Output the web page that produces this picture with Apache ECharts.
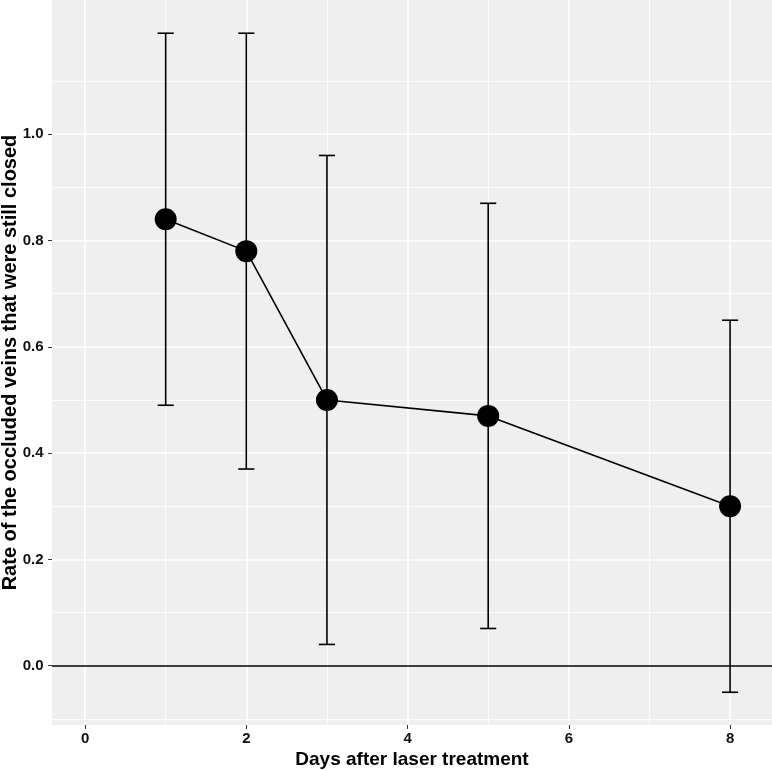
<!DOCTYPE html>
<html>
<head>
<meta charset="utf-8">
<script src="https://cdn.jsdelivr.net/npm/echarts@6/dist/echarts.min.js"></script>
<style>html,body{margin:0;padding:0;background:#fff;}#c{width:772px;height:771px;}</style>
</head>
<body>
<div id="c"></div>
<script>
// Data
const days = [1, 2, 3, 5, 8];
const rate = [0.84, 0.78, 0.50, 0.47, 0.30];
const lower = [0.49, 0.37, 0.04, 0.07, -0.05];
const upper = [1.19, 1.19, 0.96, 0.87, 0.65];
const xTicks = [0, 2, 4, 6, 8];
const xMinor = [1, 3, 5, 7];
const yTicks = [0.0, 0.2, 0.4, 0.6, 0.8, 1.0];
const yMinor = [-0.1, 0.1, 0.3, 0.5, 0.7, 0.9, 1.1];

const FONT = '"Liberation Sans", Arial, sans-serif';
const chart = echarts.init(document.getElementById('c'), null, {renderer: 'canvas'});

const gridLines = [];
yMinor.forEach(v => gridLines.push({yAxis: v, lineStyle: {width: 0.8}}));
xMinor.forEach(v => gridLines.push({xAxis: v, lineStyle: {width: 0.8}}));
yTicks.forEach(v => gridLines.push({yAxis: v, lineStyle: {width: 1.6}}));
xTicks.forEach(v => gridLines.push({xAxis: v, lineStyle: {width: 1.6}}));

const pts = days.map((d, i) => [d, rate[i]]);
const bars = days.map((d, i) => [d, lower[i], upper[i]]);

chart.setOption({
  animation: false,
  grid: {left: 52, right: 0, top: 0, bottom: 46, show: true, backgroundColor: '#EFEFEF', borderWidth: 0,
    containLabel: false, outerBoundsMode: 'none'},
  xAxis: {
    type: 'value', min: -0.41, max: 8.52, position: 'bottom',
    name: 'Days after laser treatment', nameLocation: 'middle', nameGap: 25, nameMoveOverlap: false,
    nameTextStyle: {fontFamily: FONT, fontWeight: 'bold', fontSize: 19, color: '#000'},
    axisLine: {show: false, onZero: false},
    axisTick: {show: true, length: 4, lineStyle: {color: '#333', width: 1}, customValues: xTicks},
    axisLabel: {customValues: xTicks, fontFamily: FONT, fontWeight: 'bold', fontSize: 15, color: '#111', margin: 6,
      formatter: v => String(v)},
    splitLine: {show: false}
  },
  yAxis: {
    type: 'value', min: -0.1116, max: 1.2525, position: 'left',
    name: 'Rate of the occluded veins that were still closed', nameLocation: 'middle', nameGap: 32, nameMoveOverlap: false,
    nameTextStyle: {fontFamily: FONT, fontWeight: 'bold', fontSize: 20, color: '#000'},
    axisLine: {show: false, onZero: false},
    axisTick: {show: true, length: 4, lineStyle: {color: '#333', width: 1}, customValues: yTicks},
    axisLabel: {customValues: yTicks, fontFamily: FONT, fontWeight: 'bold', fontSize: 15, color: '#111', margin: 8.5,
      formatter: v => v.toFixed(1)},
    splitLine: {show: false}
  },
  series: [
    {
      type: 'line', data: [], z: 0, silent: true,
      markLine: {symbol: 'none', silent: true, z: 0, label: {show: false},
        lineStyle: {color: '#FFFFFF', type: 'solid'}, data: gridLines, animation: false}
    },
    {
      type: 'line', data: [], z: 1, silent: true,
      markLine: {symbol: 'none', silent: true, z: 1, label: {show: false},
        lineStyle: {color: '#000', type: 'solid', width: 1.7}, data: [{yAxis: 0}], animation: false}
    },
    {
      type: 'custom', z: 2, data: bars, silent: true,
      renderItem: function (params, api) {
        const x = api.value(0);
        const lo = api.coord([x, api.value(1)]);
        const hi = api.coord([x, api.value(2)]);
        const hw = api.size([0.2, 0])[0] / 2;
        const st = {stroke: '#000', lineWidth: 1.6};
        return {type: 'group', children: [
          {type: 'line', shape: {x1: lo[0], y1: lo[1], x2: hi[0], y2: hi[1]}, style: st},
          {type: 'line', shape: {x1: lo[0] - hw, y1: lo[1], x2: lo[0] + hw, y2: lo[1]}, style: st},
          {type: 'line', shape: {x1: hi[0] - hw, y1: hi[1], x2: hi[0] + hw, y2: hi[1]}, style: st}
        ]};
      }
    },
    {
      type: 'line', z: 3, data: pts, symbol: 'none', silent: true,
      lineStyle: {color: '#000', width: 1.6}
    },
    {
      type: 'scatter', z: 4, data: pts, symbol: 'circle', symbolSize: 22,
      itemStyle: {color: '#000', opacity: 1}
    }
  ]
});
</script>
</body>
</html>
